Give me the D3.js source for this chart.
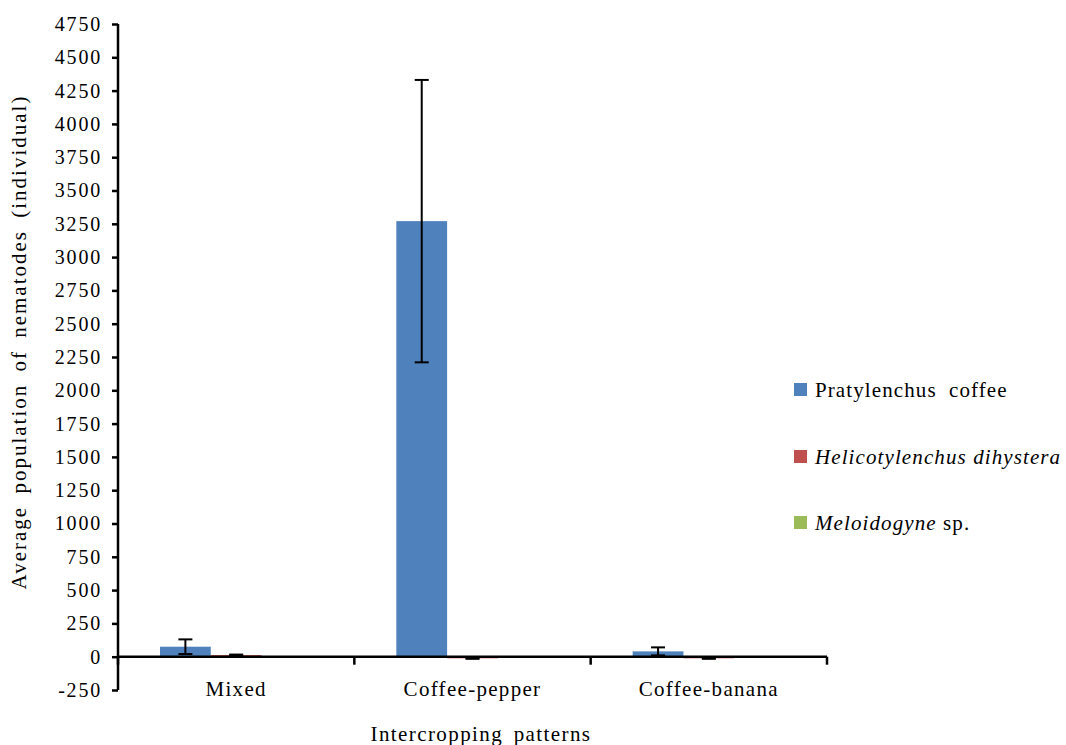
<!DOCTYPE html>
<html>
<head>
<meta charset="utf-8">
<script src="https://cdn.jsdelivr.net/npm/d3@7/dist/d3.min.js"></script>
<style>
  body { margin: 0; background: #fff; }
  svg text { font-family: "Liberation Serif", "Tinos", "DejaVu Serif", serif !important; fill: #000; }
</style>
</head>
<body>
<svg id="chart"></svg>
<script>
// data
const patterns = ["Mixed", "Coffee-pepper", "Coffee-banana"];
const species = ["Pratylenchus coffee", "Helicotylenchus dihystera", "Meloidogyne sp."];
const pratylenchus = [75, 3270, 40];
const pratylenchusErr = [55, 1060, 30];
const helicotylenchus = [12, -12, -12];
const helicotylenchusErr = [4, 4, 4];
const meloidogyne = [0, 0, 0];
const meloidogyneErr = [0, 0, 0];
const yTicks = d3.range(-250, 4751, 250);
const colors = ["#4F81BD", "#C0504D", "#9BBB59"];

const width = 1066, height = 745;
const plotLeft = 118, plotRight = 827, plotTop = 24, plotBottom = 690;
const serif = '"Liberation Serif", "Tinos", "DejaVu Serif", serif';

const svg = d3.select("#chart").attr("width", width).attr("height", height);

const y = d3.scaleLinear().domain([-250, 4750]).range([plotBottom, plotTop]);
const x0 = d3.scaleBand().domain(patterns).range([plotLeft, plotRight]);
const x1 = d3.scaleBand().domain(species).range([42, x0.bandwidth() - 42]);

const series = [
  {name: species[0], values: pratylenchus, errs: pratylenchusErr},
  {name: species[1], values: helicotylenchus, errs: helicotylenchusErr},
  {name: species[2], values: meloidogyne, errs: meloidogyneErr}
];

// bars
const groups = svg.append("g").selectAll("g")
  .data(series)
  .join("g")
  .attr("fill", (d, i) => colors[i]);

groups.selectAll("rect")
  .data(s => s.values.map((v, j) => ({v, e: s.errs[j], cat: patterns[j], name: s.name})))
  .join("rect")
  .attr("x", d => x0(d.cat) + x1(d.name))
  .attr("width", x1.bandwidth())
  .attr("y", d => y(Math.max(0, d.v)))
  .attr("height", d => Math.abs(y(d.v) - y(0)));

// error bars
const errs = [];
series.forEach(s => s.values.forEach((v, j) => {
  if (s.errs[j] > 0) errs.push({v, e: s.errs[j], cat: patterns[j], name: s.name});
}));
const eb = svg.append("g").attr("stroke", "#000").attr("stroke-width", 2);
errs.forEach(d => {
  const cx = x0(d.cat) + x1(d.name) + x1.bandwidth() / 2;
  eb.append("line").attr("x1", cx).attr("x2", cx).attr("y1", y(d.v - d.e)).attr("y2", y(d.v + d.e));
  eb.append("line").attr("x1", cx - 7).attr("x2", cx + 7).attr("y1", y(d.v + d.e)).attr("y2", y(d.v + d.e));
  eb.append("line").attr("x1", cx - 7).attr("x2", cx + 7).attr("y1", y(d.v - d.e)).attr("y2", y(d.v - d.e));
});

// y axis
const yAxis = svg.append("g")
  .attr("transform", `translate(${plotLeft},0)`)
  .call(d3.axisLeft(y).tickValues(yTicks).tickSize(6).tickPadding(10).tickFormat(d => String(d)));
yAxis.attr("font-family", serif);
yAxis.select(".domain").attr("stroke-width", 2.5).attr("d", `M0,${plotTop}V${plotBottom}`);
yAxis.selectAll(".tick line").attr("stroke-width", 2.5);
yAxis.selectAll(".tick text").attr("font-size", 20).attr("letter-spacing", 1.8)
  .attr("font-family", serif).attr("fill", "#000");

// x axis at zero
const xAxis = svg.append("g")
  .attr("transform", `translate(0,${y(0)})`);
xAxis.append("line").attr("x1", plotLeft).attr("x2", plotRight).attr("stroke", "#000").attr("stroke-width", 2.5);
const bounds = patterns.map(p => x0(p)).concat([plotRight]);
xAxis.selectAll("line.tk").data(bounds).join("line").attr("class", "tk")
  .attr("x1", d => d).attr("x2", d => d).attr("y1", 0).attr("y2", 8)
  .attr("stroke", "#000").attr("stroke-width", 2.5);

svg.append("g").selectAll("text")
  .data(patterns)
  .join("text")
  .attr("x", d => x0(d) + x0.bandwidth() / 2)
  .attr("y", 696)
  .attr("text-anchor", "middle")
  .attr("font-family", serif)
  .attr("font-size", 21)
  .attr("letter-spacing", 1.3)
  .text(d => d);

// axis titles
svg.append("text")
  .attr("x", 481).attr("y", 741)
  .attr("text-anchor", "middle")
  .attr("font-family", serif)
  .attr("font-size", 21)
  .attr("letter-spacing", 1.4)
  .attr("word-spacing", 4)
  .text("Intercropping patterns");

svg.append("text")
  .attr("transform", "translate(26,342) rotate(-90)")
  .attr("text-anchor", "middle")
  .attr("font-family", serif)
  .attr("font-size", 21)
  .attr("letter-spacing", 2)
  .attr("word-spacing", 5)
  .text("Average population of  nematodes  (individual)");

// legend
const legend = svg.append("g").attr("transform", "translate(794,0)").attr("font-family", serif);
const legendY = [390, 457, 523];
species.forEach((s, i) => {
  legend.append("rect").attr("x", 0).attr("y", legendY[i] - 7).attr("width", 13).attr("height", 13).attr("fill", colors[i]);
  const t = legend.append("text").attr("x", 21).attr("y", legendY[i] + 7).attr("font-size", 21).attr("letter-spacing", 1.1);
  if (i === 0) {
    t.attr("word-spacing", 6).text(s);
  } else if (i === 1) {
    t.attr("font-style", "italic").text(s);
  } else {
    t.append("tspan").attr("font-style", "italic").text("Meloidogyne");
    t.append("tspan").text(" sp.");
  }
});
</script>
</body>
</html>
